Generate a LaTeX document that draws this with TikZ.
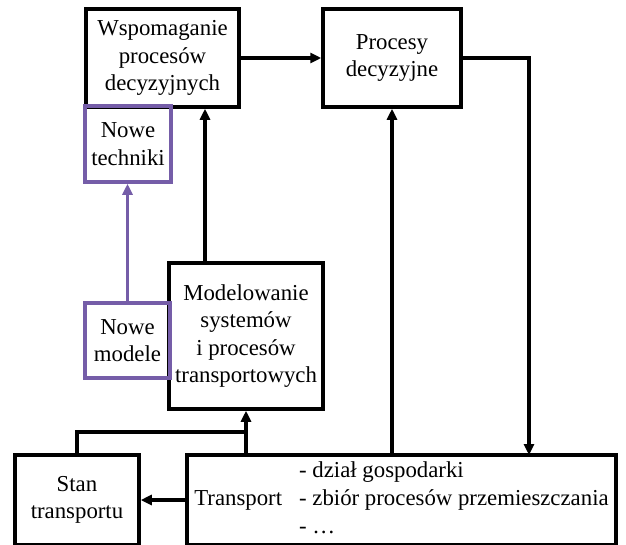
\documentclass[tikz,border=0pt]{standalone}
\usepackage{fontspec}
\setmainfont{Liberation Serif}
\usetikzlibrary{arrows.meta}
\definecolor{fiolet}{RGB}{117,93,168}

\begin{document}
\begin{tikzpicture}[x=1pt, y=-1pt, line width=3.5pt,
    every node/.style={draw, line width=3.5pt, align=center, inner sep=2pt, font=\fontsize{22.8}{27.5}\selectfont},
    nowe/.style={draw=fiolet},
    arr/.style={-{Triangle[length=11pt,width=10pt]}}]
    \useasboundingbox (0,0) rectangle (626,544);

    \node (wsp) at (162.5,58) [minimum width=153pt, minimum height=98pt] {Wspomaganie\\procesów\\decyzyjnych};
    \node (proc) at (392,58) [minimum width=138pt, minimum height=98pt] {Procesy\\decyzyjne};
    \node (model) at (246,336) [minimum width=154pt, minimum height=146pt] {Modelowanie\\systemów\\i procesów\\transportowych};
    \node (stan) at (77,500) [minimum width=124pt, minimum height=90pt] {Stan\\transportu};
    \node (trans) at (401.5,500) [minimum width=429pt, minimum height=90pt] {%
      \renewcommand\arraystretch{1.03}%
      \begin{tabular}{@{}l@{\hspace{17pt}}l@{}}
        & - dział gospodarki\\
        Transport & - zbiór procesów przemieszczania\\
        & - …
      \end{tabular}};
    \node[nowe] (tech) at (128,144) [minimum width=86pt, minimum height=76pt] {Nowe\\techniki};
    \node[nowe] (nmod) at (127.5,340.5) [minimum width=85pt, minimum height=75pt] {Nowe\\modele};

    \coordinate (dol) at (529,455);
    \coordinate (gora) at (205,0);
    \coordinate (zb) at (247,432);

    \draw[arr] (wsp) -- (proc);
    \draw[arr] (proc.east) -| (dol);
    \draw[arr] (trans.north -| proc.south) -- (proc.south);
    \draw[arr] (model.north -| gora) -- (wsp.south -| gora);
    \draw[arr] (trans.north -| model.south) -- (model.south);
    \draw (stan.north) |- (zb);
    \draw[arr] (trans.west) -- (stan.east);
    \draw[arr, fiolet] (nmod.north) -- (nmod.north |- tech.south);
  \end{tikzpicture}
\end{document}
